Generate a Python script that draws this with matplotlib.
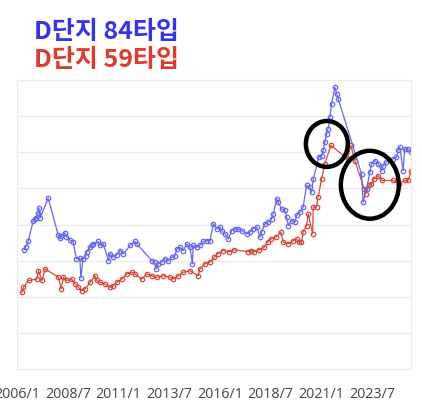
import matplotlib.pyplot as plt
from matplotlib.patches import Ellipse

plt.rcParams['font.family'] = ['Noto Sans CJK KR', 'DejaVu Sans']

# 84 type (blue) - decimal year, price
yr_84 = [2006.34, 2006.41, 2006.54, 2006.79, 2006.87, 2006.95, 2007.03, 2007.07, 2007.13, 2007.53,
         2008.02, 2008.10, 2008.18, 2008.35, 2008.43, 2008.60, 2008.76, 2008.92, 2009.09, 2009.14,
         2009.25, 2009.40, 2009.43, 2009.60, 2009.68, 2009.76, 2010.00, 2010.09, 2010.25, 2010.50,
         2010.58, 2010.74, 2010.91, 2011.07, 2011.24, 2011.57, 2011.81, 2011.90, 2012.64, 2012.78,
         2012.84, 2012.96, 2013.13, 2013.29, 2013.45, 2013.62, 2013.78, 2013.87, 2014.03, 2014.19,
         2014.36, 2014.52, 2014.64, 2014.68, 2014.85, 2015.01, 2015.18, 2015.34, 2015.51, 2015.67,
         2015.84, 2016.00, 2016.08, 2016.25, 2016.41, 2016.58, 2016.74, 2016.90, 2017.07, 2017.32,
         2017.48, 2017.64, 2017.81, 2017.97, 2018.05, 2018.22, 2018.38, 2018.55, 2018.63, 2018.79,
         2018.87, 2019.04, 2019.20, 2019.29, 2019.37, 2019.53, 2019.69, 2019.78, 2019.94, 2020.10,
         2020.27, 2020.43, 2020.52, 2020.60, 2020.88, 2021.01, 2021.09, 2021.17, 2021.26, 2021.33,
         2021.42, 2021.50, 2021.67, 2021.75, 2021.83, 2022.98, 2023.06, 2023.23, 2023.39, 2023.47,
         2023.64, 2023.80, 2023.97, 2024.05, 2024.21, 2024.54, 2024.70, 2024.78, 2024.87, 2025.03,
         2025.11, 2025.28, 2025.44]
price_84 = [3.30, 3.37, 3.53, 4.10, 4.14, 4.18, 4.32, 4.46, 4.18, 4.73,
            3.71, 3.63, 3.68, 3.77, 3.66, 3.57, 3.52, 3.05, 3.07, 2.52,
            3.05, 3.14, 3.24, 3.38, 3.42, 3.46, 3.53, 3.42, 3.46, 3.00,
            3.19, 3.09, 3.16, 3.28, 3.19, 3.42, 3.53, 3.46, 3.00, 2.95,
            2.77, 2.91, 2.96, 3.05, 3.00, 3.09, 3.14, 3.32, 3.37, 3.28,
            3.46, 3.37, 2.91, 3.42, 3.37, 3.42, 3.53, 3.55, 3.55, 4.02,
            3.88, 3.93, 3.83, 3.74, 3.60, 3.83, 3.88, 3.88, 3.83, 3.74,
            3.79, 3.88, 3.93, 3.65, 3.79, 4.02, 4.06, 4.16, 4.29, 4.71,
            4.62, 4.43, 4.39, 4.20, 3.97, 4.11, 4.06, 4.25, 4.34, 4.48,
            5.08, 5.03, 4.89, 5.26, 5.87, 5.91, 6.05, 6.28, 6.51, 6.65,
            6.97, 7.34, 7.80, 7.62, 7.48, 5.40, 4.62, 4.99, 5.45, 5.68,
            5.77, 5.68, 5.49, 5.63, 5.73, 5.82, 5.86, 6.05, 6.14, 5.49,
            6.09, 6.09, 6.00]

# 59 type (red)
yr_59 = [2006.23, 2006.31, 2006.56, 2006.97, 2007.05, 2007.22, 2007.38, 2008.03, 2008.17, 2008.28,
         2008.45, 2008.69, 2008.86, 2009.02, 2009.19, 2009.35, 2009.60, 2009.84, 2009.93, 2010.09,
         2010.33, 2010.58, 2010.74, 2010.91, 2011.16, 2011.40, 2011.65, 2011.81, 2012.14, 2012.39,
         2012.64, 2012.88, 2013.21, 2013.54, 2013.70, 2013.95, 2014.19, 2014.52, 2014.93, 2015.01,
         2015.26, 2015.51, 2015.72, 2015.89, 2016.13, 2016.46, 2016.70, 2017.36, 2017.53, 2017.69,
         2017.94, 2018.18, 2018.35, 2018.51, 2018.76, 2019.00, 2019.12, 2019.36, 2019.61, 2019.78,
         2019.91, 2020.02, 2020.10, 2020.27, 2020.35, 2020.57, 2020.60, 2020.76, 2020.84, 2021.01,
         2021.17, 2021.47, 2022.29, 2022.45, 2022.65, 2023.11, 2023.19, 2023.35, 2023.47, 2023.60,
         2023.80, 2023.97, 2024.54, 2024.83, 2025.11, 2025.28, 2025.44]
price_59 = [2.12, 2.26, 2.45, 2.49, 2.72, 2.45, 2.77, 2.54, 2.22, 2.54,
            2.45, 2.49, 2.35, 2.26, 2.17, 2.22, 2.40, 2.58, 2.45, 2.40,
            2.35, 2.26, 2.31, 2.40, 2.49, 2.63, 2.68, 2.63, 2.49, 2.63,
            2.58, 2.54, 2.58, 2.54, 2.49, 2.58, 2.68, 2.72, 2.58, 2.77,
            2.91, 2.96, 3.09, 3.19, 3.28, 3.25, 3.30, 3.25, 3.28, 3.25,
            3.30, 3.37, 3.51, 3.60, 3.65, 3.79, 3.51, 3.46, 3.55, 3.60,
            3.51, 3.51, 3.79, 3.97, 4.29, 3.74, 4.48, 4.48, 4.76, 5.26,
            5.68, 6.19, 5.82, 6.19, 5.77, 4.99, 4.85, 5.08, 5.12, 5.26,
            5.35, 5.22, 5.22, 5.12, 5.22, 5.22, 5.49]

tick_pos = [2006.0, 2008.5, 2011.0, 2013.5, 2016.0, 2018.5, 2021.0, 2023.5]
tick_labels = ['2006/1', '2008/7', '2011/1', '2013/7', '2016/1', '2018/7', '2021/1', '2023/7']

# highlighted areas (center x, center y, width, height)
circles = [(2021.27, 6.23, 2.07, 1.27), (2023.39, 5.10, 2.86, 1.88)]

fig = plt.figure(figsize=(4.22, 4.14), dpi=100)
ax = fig.add_axes([17 / 422, 44 / 414, 394 / 422, 289 / 414])

ax.plot(yr_59, price_59, color='#d44a3a', lw=0.9, marker='o', ms=3.2,
        mfc='none', mec='#d44a3a', mew=0.9)
ax.plot(yr_84, price_84, color='#6666f2', lw=0.9, marker='o', ms=3.2,
        mfc='none', mec='#6666f2', mew=0.9)

for cx, cy, w, h in circles:
    ax.add_patch(Ellipse((cx, cy), w, h, fill=False, ec='black', lw=3.2, zorder=5))

ax.set_xlim(2005.99, 2025.42)
ax.set_ylim(0, 8)
ax.set_yticks(range(0, 9))
ax.set_yticklabels([])
ax.set_xticks(tick_pos)
ax.set_xticklabels(tick_labels, family=['Open Sans', 'DejaVu Sans'], fontsize=10.3, color='#444444')
ax.tick_params(length=0, pad=12)
ax.grid(axis='y', color='#ececec', lw=1)
for s in ax.spines.values():
    s.set_color('#ececec')

fig.text(34 / 422, 1 - 32 / 414, 'D단지 84타입', color='#3434f0', fontsize=18,
         fontweight='bold', va='center', ha='left')
fig.text(34 / 422, 1 - 60 / 414, 'D단지 59타입', color='#e03a2e', fontsize=18,
         fontweight='bold', va='center', ha='left')

fig.savefig('out.png', dpi=100)
